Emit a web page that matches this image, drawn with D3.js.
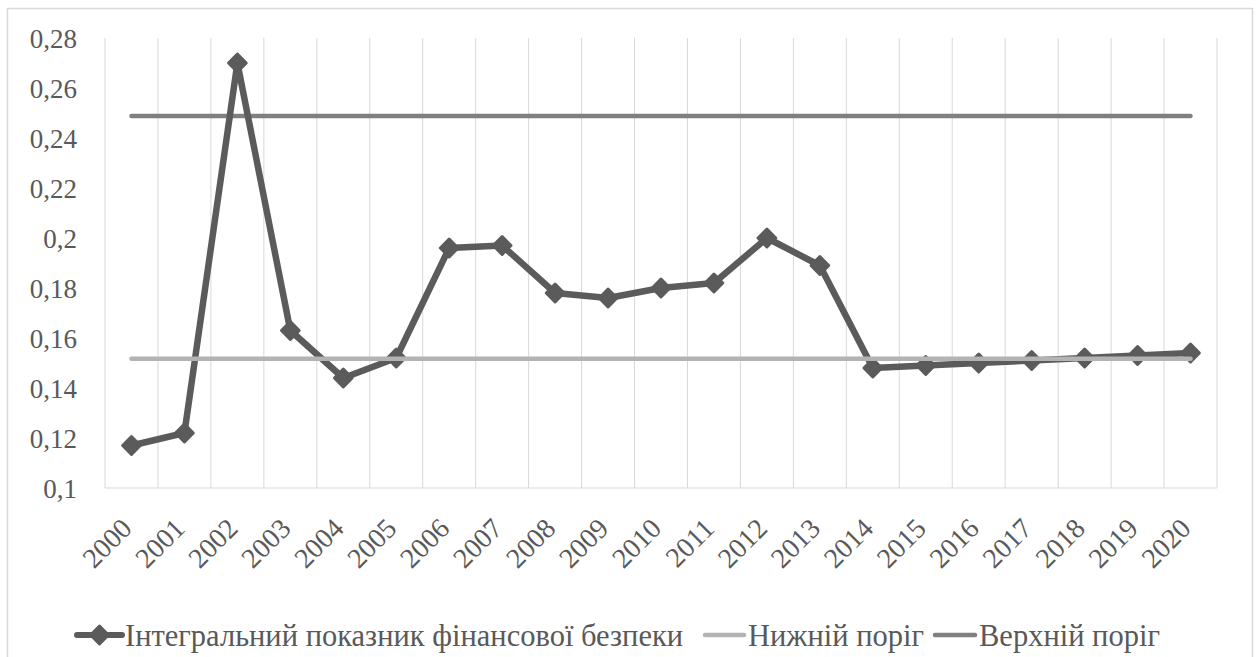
<!DOCTYPE html>
<html><head><meta charset="utf-8">
<script src="https://cdn.jsdelivr.net/npm/d3@7"></script>
<style>body{margin:0;background:#fff;} svg{display:block;} svg text{font-family:"Liberation Serif","Times New Roman",serif !important;}</style>
</head><body>
<script>
const years = ["2000","2001","2002","2003","2004","2005","2006","2007","2008","2009","2010","2011","2012","2013","2014","2015","2016","2017","2018","2019","2020"];
const integralValues = [0.117,0.122,0.270,0.163,0.144,0.152,0.196,0.197,0.178,0.176,0.180,0.182,0.200,0.189,0.148,0.149,0.150,0.151,0.152,0.153,0.154];
const lowerThreshold = years.map(() => 0.1517);
const upperThreshold = years.map(() => 0.2488);
const yTicks = [0.1,0.12,0.14,0.16,0.18,0.2,0.22,0.24,0.26,0.28];
const seriesNames = ["Інтегральний показник фінансової безпеки","Нижній поріг","Верхній поріг"];

(function(){
const W = 1259, H = 657;
const svg = d3.select("body").append("svg").attr("width", W).attr("height", H)
  .attr("font-family", "Liberation Serif, serif");
svg.append("rect").attr("x",7.5).attr("y",8.5).attr("width",1245).attr("height",660).attr("fill","#fff").attr("stroke","#d9d9d9").attr("stroke-width",1.5);

const pL = 105, pR = 1217, pT = 38, pB = 488;
const x = d3.scaleBand().domain(years).range([pL, pR]).padding(0);
const y = d3.scaleLinear().domain([0.1, 0.28]).range([pB, pT]);

const bounds = years.map(d => x(d)).concat([pR]);
svg.append("g").selectAll("line").data(bounds).join("line")
  .attr("x1", d => d).attr("x2", d => d).attr("y1", pT).attr("y2", pB)
  .attr("stroke", "#d9d9d9").attr("stroke-width", 1);
svg.append("line").attr("x1", pL).attr("x2", pR).attr("y1", pB).attr("y2", pB)
  .attr("stroke", "#d9d9d9").attr("stroke-width", 1.2);

const yAxis = d3.axisLeft(y).tickValues(yTicks).tickSize(0).tickPadding(0)
  .tickFormat(d => String(+d.toFixed(2)).replace(".", ","));
const gy = svg.append("g").attr("transform", `translate(${77},0)`).call(yAxis)
  .attr("font-size", 27).attr("font-family", "Liberation Serif, serif");
gy.select(".domain").remove();
gy.selectAll("text").style("font-size", "27px").attr("fill", "#595959").attr("dy", "0.35em");

const xAxis = d3.axisBottom(x).tickSize(0).tickPadding(0);
const gx = svg.append("g").attr("transform", `translate(0,${pB})`).call(xAxis)
  .attr("font-size", 28).attr("font-family", "Liberation Serif, serif");
gx.select(".domain").remove();
gx.selectAll("text").style("font-size", "28px").attr("font-size", 28).attr("fill", "#595959")
  .attr("text-anchor", "end").attr("dy", 0).attr("y", 0)
  .attr("transform", "translate(2,42) rotate(-45)");

const cx = d => x(d) + x.bandwidth() / 2;
const line = d3.line().x((d, i) => cx(years[i])).y(d => y(d));

svg.append("path").datum(upperThreshold).attr("d", line).attr("fill", "none")
  .attr("stroke", "#808080").attr("stroke-width", 4.5).attr("stroke-linecap", "round");
svg.append("path").datum(integralValues).attr("d", line).attr("fill", "none")
  .attr("stroke", "#5b5b5b").attr("stroke-width", 6.5).attr("stroke-linejoin", "round").attr("stroke-linecap", "round");
const diamond = d3.symbol().type(d3.symbolDiamond2).size(200);
svg.append("g").selectAll("path").data(integralValues).join("path")
  .attr("d", diamond).attr("transform", (d, i) => `translate(${cx(years[i])},${y(d)})`)
  .attr("fill", "#5b5b5b").attr("stroke", "#5b5b5b").attr("stroke-width", 3).attr("stroke-linejoin", "round");
svg.append("path").datum(lowerThreshold).attr("d", line).attr("fill", "none")
  .attr("stroke", "#b3b3b3").attr("stroke-width", 4.5).attr("stroke-linecap", "round");

const ly = 635;
const leg = svg.append("g");
const items = [
  {name: seriesNames[0], x1: 77, x2: 122, tx: 125, color: "#5b5b5b", w: 6, marker: true},
  {name: seriesNames[1], x1: 705, x2: 744, tx: 748, color: "#b3b3b3", w: 4.5},
  {name: seriesNames[2], x1: 935, x2: 975, tx: 979, color: "#808080", w: 4.5}
];
items.forEach(it => {
  leg.append("line").attr("x1", it.x1).attr("x2", it.x2).attr("y1", ly).attr("y2", ly)
    .attr("stroke", it.color).attr("stroke-width", it.w).attr("stroke-linecap", "round");
  if (it.marker) leg.append("path").attr("d", diamond).attr("transform", `translate(${(it.x1+it.x2)/2},${ly})`)
    .attr("fill", it.color).attr("stroke", it.color).attr("stroke-width", 3).attr("stroke-linejoin", "round");
  leg.append("text").attr("x", it.tx).attr("y", ly).attr("dy", "0.35em").style("font-size", "30.5px")
    .attr("fill", "#595959").text(it.name);
});
})();
</script>
</body></html>
